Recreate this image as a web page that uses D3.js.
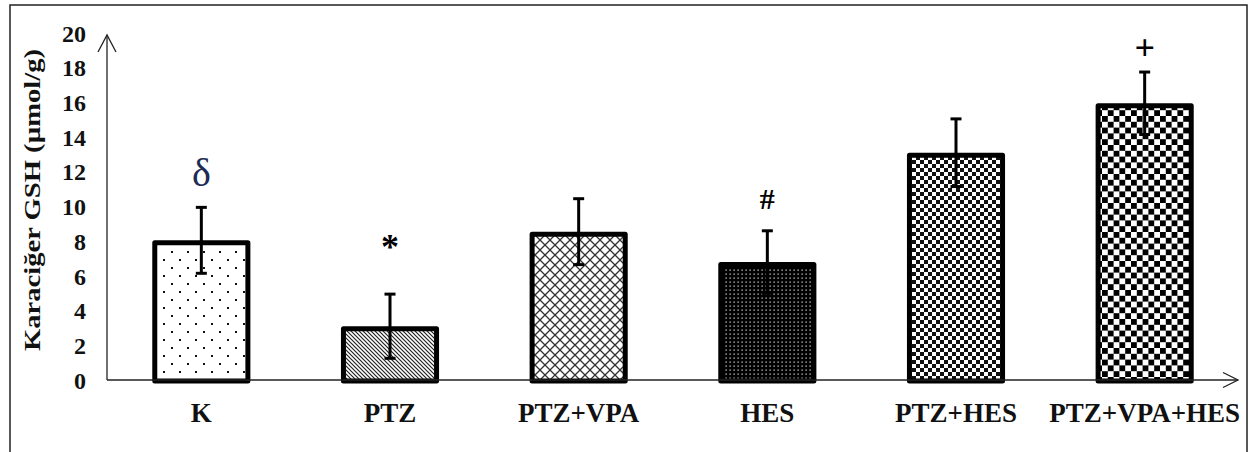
<!DOCTYPE html>
<html>
<head>
<meta charset="utf-8">
<script src="https://cdn.jsdelivr.net/npm/d3@7"></script>
<style>
  html, body { margin: 0; padding: 0; background: #fff; }
  svg { display: block; }
  text { font-family: "Liberation Serif", "Times New Roman", serif; }
</style>
</head>
<body>
<svg id="chart" width="1255" height="452"></svg>
<script>
// Liver GSH per group (mean ± error)
const categories = ["K", "PTZ", "PTZ+VPA", "HES", "PTZ+HES", "PTZ+VPA+HES"];
const means = [8.05, 3.1, 8.55, 6.8, 13.1, 15.95];
const errors = [1.9, 1.85, 1.9, 1.8, 1.95, 1.8];
const marks = ["δ", "*", "", "#", "", "+"];
const yTicks = [0, 2, 4, 6, 8, 10, 12, 14, 16, 18, 20];
const yLabel = "Karaciğer GSH (µmol/g)";

const svg = d3.select("#chart");
const W = 1255, H = 452;

// outer frame
svg.append("rect")
  .attr("x", 10).attr("y", 5)
  .attr("width", 1237).attr("height", H + 10)
  .attr("fill", "#fff").attr("stroke", "#222").attr("stroke-width", 1.5);

// fill patterns, one per group
const defs = svg.append("defs");
function pattern(id, w, h) {
  return defs.append("pattern").attr("id", id)
    .attr("patternUnits", "userSpaceOnUse")
    .attr("width", w).attr("height", h);
}
// sparse dots
{
  const p = pattern("pDots", 16, 16);
  p.append("rect").attr("width", 16).attr("height", 16).attr("fill", "#fff");
  p.append("rect").attr("x", 3).attr("y", 3).attr("width", 2).attr("height", 2).attr("fill", "#111");
  p.append("rect").attr("x", 11).attr("y", 11).attr("width", 2).attr("height", 2).attr("fill", "#111");
}
// dark downward diagonal
{
  const p = pattern("pDiag", 4, 4);
  p.append("rect").attr("width", 4).attr("height", 4).attr("fill", "#fff");
  p.append("path").attr("d", "M-1,-1L5,5M-1,3L1,5M3,-1L5,1")
    .attr("stroke", "#222").attr("stroke-width", 1.2);
}
// diagonal cross-hatch
{
  const p = pattern("pCross", 10, 10);
  p.append("rect").attr("width", 10).attr("height", 10).attr("fill", "#fff");
  p.append("path").attr("d", "M0,0L10,10M10,0L0,10")
    .attr("stroke", "#333").attr("stroke-width", 1.3);
}
// black with white dots
{
  const p = pattern("pBlackDots", 4, 4);
  p.append("rect").attr("width", 4).attr("height", 4).attr("fill", "#000");
  p.append("rect").attr("x", 1.5).attr("y", 1.5).attr("width", 1.2).attr("height", 1.2).attr("fill", "#eee");
}
// small checkerboard
{
  const p = pattern("pSmallCheck", 8, 8);
  p.append("rect").attr("width", 8).attr("height", 8).attr("fill", "#fff");
  p.append("rect").attr("x", 0).attr("y", 0).attr("width", 4).attr("height", 4).attr("fill", "#111");
  p.append("rect").attr("x", 4).attr("y", 4).attr("width", 4).attr("height", 4).attr("fill", "#111");
}
// large checkerboard
{
  const p = pattern("pBigCheck", 11.6, 11.6);
  p.append("rect").attr("width", 11.6).attr("height", 11.6).attr("fill", "#fff");
  p.append("rect").attr("x", 0).attr("y", 0).attr("width", 5.8).attr("height", 5.8).attr("fill", "#000");
  p.append("rect").attr("x", 5.8).attr("y", 5.8).attr("width", 5.8).attr("height", 5.8).attr("fill", "#000");
}
const fills = ["url(#pDots)", "url(#pDiag)", "url(#pCross)", "url(#pBlackDots)", "url(#pSmallCheck)", "url(#pBigCheck)"];

// look of each significance symbol: size, weight, colour, gap above the error bar
const markStyle = {
  "δ": { size: 40, weight: "normal", color: "#1d2b55", gap: 35 },
  "*": { size: 36, weight: "bold", color: "#000", gap: 47 },
  "#": { size: 30, weight: "bold", color: "#000", gap: 32 },
  "+": { size: 36, weight: "bold", color: "#000", gap: 24 }
};

// scales
const x0 = 107, xEnd = 1239;
const y0 = 380, yTop = 33;
const x = d3.scaleBand().domain(categories).range([x0, xEnd])
  .paddingInner(0.48).paddingOuter(0.24);
const y = d3.scaleLinear().domain([0, 20]).range([y0, yTop]);

const rows = categories.map((c, i) => ({ c, m: means[i], e: errors[i], mark: marks[i], fill: fills[i] }));

// y axis tick labels (no tick marks)
const yAxis = d3.axisLeft(y).tickValues(yTicks).tickSize(0).tickPadding(0);
const gy = svg.append("g").attr("transform", `translate(${86},0)`).call(yAxis);
gy.select(".domain").remove();
gy.selectAll("text")
  .attr("font-weight", "bold")
  .attr("font-size", 24)
  .attr("fill", "#111")
  .attr("dy", "0.34em");

// x axis category labels
const xAxis = d3.axisBottom(x).tickSize(0).tickPadding(0);
const gx = svg.append("g").attr("transform", `translate(0,${y0})`).call(xAxis);
gx.select(".domain").remove();
gx.selectAll("text")
  .attr("font-weight", "bold")
  .attr("font-size", 27)
  .attr("fill", "#111")
  .attr("dy", null)
  .attr("y", 42);

// bars
const sw = 5;
svg.append("g").selectAll("rect").data(rows).join("rect")
  .attr("x", d => x(d.c) + sw / 2)
  .attr("y", d => y(d.m) + sw / 2)
  .attr("width", x.bandwidth() - sw)
  .attr("height", d => y0 - y(d.m) - sw / 2 + 1)
  .attr("fill", d => d.fill)
  .attr("stroke", "#000")
  .attr("stroke-width", sw)
  .attr("stroke-linejoin", "round");

// error bars
const eb = svg.append("g").attr("stroke", "#000");
rows.forEach(d => {
  const cx = x(d.c) + x.bandwidth() / 2;
  eb.append("line").attr("x1", cx).attr("x2", cx)
    .attr("y1", y(d.m + d.e)).attr("y2", y(d.m - d.e)).attr("stroke-width", 3);
  [d.m + d.e, d.m - d.e].forEach(v => {
    eb.append("line").attr("x1", cx - 5.5).attr("x2", cx + 5.5)
      .attr("y1", y(v)).attr("y2", y(v)).attr("stroke-width", 3);
  });
});

// significance marks
svg.append("g").selectAll("text").data(rows.filter(d => d.mark)).join("text")
  .attr("x", d => x(d.c) + x.bandwidth() / 2)
  .attr("y", d => y(d.m + d.e) - markStyle[d.mark].gap)
  .attr("dominant-baseline", "central")
  .attr("text-anchor", "middle")
  .attr("font-size", d => markStyle[d.mark].size)
  .attr("font-weight", d => markStyle[d.mark].weight)
  .attr("fill", d => markStyle[d.mark].color)
  .text(d => d.mark);

// axis lines with open arrowheads
const ax = svg.append("g").attr("stroke", "#222").attr("stroke-width", 1.3).attr("fill", "none");
ax.append("line").attr("x1", x0).attr("x2", x0).attr("y1", y0).attr("y2", yTop + 2);
ax.append("path").attr("d", `M${x0 - 9},${yTop + 19}L${x0},${yTop + 2}L${x0 + 9},${yTop + 19}`);
ax.append("line").attr("x1", x0).attr("x2", xEnd - 1).attr("y1", y0).attr("y2", y0);
ax.append("path").attr("d", `M${xEnd - 16},${y0 - 7.5}L${xEnd - 1},${y0}L${xEnd - 16},${y0 + 7.5}`);

// y axis title
svg.append("text")
  .attr("transform", `translate(40,200) rotate(-90)`)
  .attr("text-anchor", "middle")
  .attr("font-weight", "bold")
  .attr("font-size", 24)
  .attr("fill", "#111")
  .attr("textLength", 302)
  .attr("lengthAdjust", "spacingAndGlyphs")
  .text(yLabel);
</script>
</body>
</html>
